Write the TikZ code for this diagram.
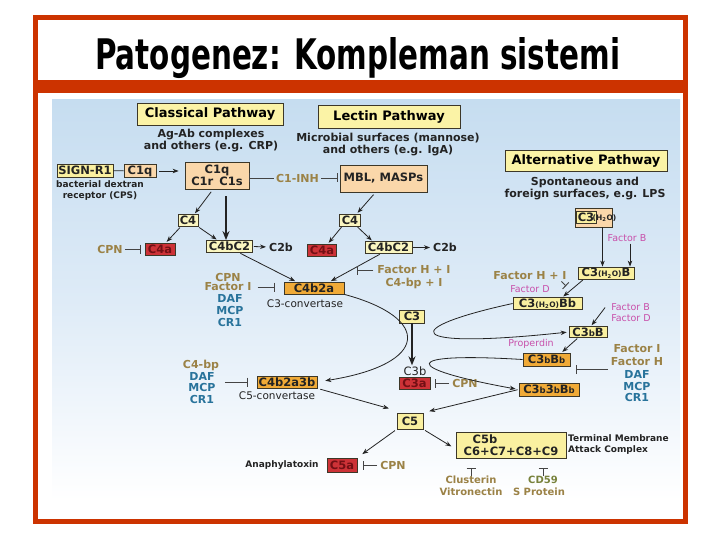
\documentclass[tikz,border=0pt]{standalone}
\usepackage{fontspec}
\setmainfont{DejaVu Sans}
\newfontfamily\titlefont{DejaVu Sans}
\usepackage{graphicx}
\usetikzlibrary{arrows.meta}
\definecolor{frame}{RGB}{204,51,0}
\definecolor{ylw}{RGB}{250,240,160}
\definecolor{hylw}{RGB}{251,243,166}
\definecolor{lylw}{RGB}{250,246,192}
\definecolor{peach}{RGB}{250,215,170}
\definecolor{orng}{RGB}{240,170,55}
\definecolor{rd}{RGB}{205,50,55}
\definecolor{rdtxt}{RGB}{115,15,20}
\definecolor{khaki}{RGB}{155,130,70}
\definecolor{olive}{RGB}{120,130,60}
\definecolor{tealc}{RGB}{40,115,155}
\definecolor{pinkc}{RGB}{200,80,170}
\definecolor{ink}{RGB}{35,35,35}
\definecolor{bord}{RGB}{60,55,40}
\definecolor{bgtop}{RGB}{198,221,240}
\definecolor{bgmid}{RGB}{222,235,247}
\newcommand{\sbb}{{\fontsize{8.5}{8}\selectfont b}}
\newcommand{\hho}{{\fontsize{7.5}{8}\selectfont(H\textsubscript{2}O)}}
\tikzset{
  bx/.style={draw=bord, line width=0.8pt, inner sep=0pt, text=ink,
    font=\bfseries\fontsize{11.5}{12}\selectfont},
  yl/.style={bx, fill=ylw},
  ly/.style={bx, fill=lylw},
  pc/.style={bx, fill=peach},
  og/.style={bx, fill=orng},
  rb/.style={bx, fill=rd, text=rdtxt},
  hdr/.style={draw=bord, line width=0.8pt, fill=hylw, inner sep=0pt, text=black,
    font=\bfseries\fontsize{13}{14}\selectfont},
  txt/.style={inner sep=0pt, text=ink, font=\bfseries\fontsize{11}{12}\selectfont},
  sm/.style={inner sep=0pt, text=ink, font=\bfseries\fontsize{9}{11}\selectfont},
  reg/.style={inner sep=0pt, text=ink, font=\fontsize{10.5}{12}\selectfont},
  kh/.style={inner sep=0pt, text=khaki, font=\bfseries\fontsize{11}{12}\selectfont},
  khs/.style={inner sep=0pt, text=khaki, font=\bfseries\fontsize{10}{12}\selectfont},
  tl/.style={inner sep=0pt, text=tealc, font=\bfseries\fontsize{11}{12}\selectfont},
  pk/.style={inner sep=0pt, text=pinkc, font=\fontsize{9.5}{11}\selectfont},
  arr/.style={draw=ink, line width=0.8pt, -{Stealth[length=6pt,width=4.5pt]}},
  thk/.style={draw=ink, line width=1.8pt, -{Stealth[length=9pt,width=7pt]}},
  inh/.style={draw=ink!85, line width=0.8pt, -{Bar[width=9pt,line width=0.9pt]}},
  ln/.style={draw=ink, line width=0.8pt}
}
\begin{document}
\begin{tikzpicture}[x=1pt,y=-1pt]
\useasboundingbox (0,0) rectangle (720,540);
\fill[white] (0,0) rectangle (720,540);
% background of diagram
\shade[top color=bgtop, bottom color=white, middle color=bgmid] (52,100) rectangle (680,500);
% frame
\draw[frame, line width=5pt] (35.5,17.5) rectangle (685.5,521);
\fill[frame] (33,80) rectangle (688,93);
\node[anchor=base west, inner sep=0pt] (title) at (95,70)
  {\resizebox{525pt}{32pt}{\titlefont\bfseries Patogenez: Kompleman sistemi}};

% ---------- Classical pathway ----------
\node[hdr, minimum width=146, minimum height=22] (cph) at (210,114) {Classical Pathway};
\node[txt, align=center] (cpd) at (211,141) {Ag-Ab complexes\\and others (e.g. CRP)};
\node[yl, minimum width=56, minimum height=13] (signr1) at (85,170.5) {SIGN-R1};
\node[pc, minimum width=32, minimum height=13] (c1qa) at (140,171) {C1q};
\draw[ln] (signr1) -- (c1qa);
\node[sm, align=center] (bdr) at (100,191) {bacterial dextran\\receptor (CPS)};
\node[pc, minimum width=64, minimum height=27, align=center] (c1) at (217,175.5)
  {\fontsize{11.5}{13}\selectfont C1q\\C1r\hspace{6pt}C1s};
\draw[arr, shorten <=3pt, shorten >=6pt] (c1qa) -- (c1qa -| c1.west);
\node[kh] (c1inh) at (297.5,178) {C1-INH};

% ---------- Lectin pathway ----------
\node[hdr, minimum width=142, minimum height=23] (lph) at (389,116.5) {Lectin Pathway};
\node[txt, align=center] (lpd) at (388,145) {Microbial surfaces (mannose)\\and others (e.g. IgA)};
\node[pc, minimum width=87, minimum height=27] (mbl) at (383.5,178.5) {MBL, MASPs};
\draw[inh, shorten <=2pt] (c1inh.west) -- (c1inh.west -| c1.east);
\draw[inh, shorten <=2pt, shorten >=2pt] (c1inh.east) -- (c1inh.east -| mbl.west);

% classical C4 cleavage
\node[ly, minimum width=20, minimum height=12] (c4c) at (188,220.5) {C4};
\node[rb, minimum width=30, minimum height=12] (c4ac) at (160,249) {C4a};
\node[kh] (cpn1) at (110,249) {CPN};
\draw[inh, shorten <=2pt, shorten >=4pt] (cpn1.east) -- (c4ac.west);
\node[ly, minimum width=46, minimum height=12] (c4bc2c) at (229.5,246.5) {C4bC2};
\node[txt] (c2bc) at (281,247) {C2b};
\draw[arr, shorten <=1pt, shorten >=3pt] (c4bc2c.east) -- (c2bc.west);
\draw[arr, shorten <=3pt, shorten >=1pt] ([xshift=-4pt]c1.south) -- ([xshift=-4pt]c4c.north east);
\draw[thk, shorten <=7pt] ([xshift=9pt]c1.south) -- ([xshift=9pt]c1.south |- c4bc2c.north);
\draw[arr, shorten <=1pt, shorten >=1pt] ([xshift=3pt]c4c.south west) -- ([xshift=6pt]c4ac.north);
\draw[arr, shorten <=1pt, shorten >=1pt] (c4c.south east) -- ([xshift=-12pt]c4bc2c.north);

% lectin C4 cleavage
\node[ly, minimum width=21, minimum height=12] (c4l) at (350,220) {C4};
\node[rb, minimum width=29, minimum height=12] (c4al) at (322,250) {C4a};
\node[ly, minimum width=47, minimum height=12] (c4bc2l) at (388.5,247.5) {C4bC2};
\node[txt] (c2bl) at (445,247.5) {C2b};
\draw[arr, shorten <=1pt, shorten >=3pt] (c4bc2l.east) -- (c2bl.west);
\draw[arr, shorten <=3pt, shorten >=1pt] ([xshift=-8pt]mbl.south) -- ([xshift=-4pt]c4l.north east);
\draw[arr, shorten <=1pt, shorten >=1pt] ([xshift=3pt]c4l.south west) -- ([xshift=6pt]c4al.north);
\draw[arr, shorten <=1pt, shorten >=1pt] ([xshift=-4pt]c4l.south east) -- ([xshift=-16pt]c4bc2l.north);

% C3 convertase
\node[og, minimum width=60, minimum height=12] (c4b2a) at (314,288) {C4b2a};
\node[reg] (c3conv) at (305,304) {C3-convertase};
\draw[arr, shorten <=1pt, shorten >=1pt] ([xshift=10pt]c4bc2c.south) -- ([xshift=-18pt]c4b2a.north);
\draw[arr, shorten <=1pt, shorten >=1pt] ([xshift=-8pt]c4bc2l.south) -- ([xshift=16pt]c4b2a.north);
\node[kh] (fhi1) at (414,270) {Factor H + I};
\node[kh] (fhi2) at (414,283) {C4-bp + I};
\coordinate (fhbar) at (357,270);
\draw[inh, shorten <=4pt] (fhi1.west) -- (fhbar);
\node[kh] (cpn2) at (228,277) {CPN};
\node[kh] (fi1) at (228,287) {Factor I};
\node[tl] (daf1) at (230,298.5) {DAF};
\node[tl] (mcp1) at (230,310) {MCP};
\node[tl] (cr11) at (230,322) {CR1};
\draw[inh, shorten <=6pt, shorten >=9pt] (fi1.east) -- (fi1.east -| c4b2a.west);

% C3
\node[yl, minimum width=25, minimum height=13] (c3) at (412,316.5) {C3};
\node[inner sep=0pt, text=ink, font=\fontsize{11.5}{12}\selectfont] (c3b) at (415,371) {C3b};
\draw[thk, shorten >=1pt] (c3.south) -- (c3.south |- c3b.north);
\node[rb, minimum width=31, minimum height=12] (c3a) at (414.5,383) {C3a};
\node[kh] (cpn3) at (465,383) {CPN};
\draw[inh, shorten <=3pt] (cpn3.west) -- ([xshift=5pt]c3a.east);

% C5 convertase
\node[og, minimum width=60, minimum height=12] (c4b2a3b) at (287,382) {C4b2a3b};
\node[reg] (c5conv) at (277,396) {C5-convertase};
\draw[arr, shorten >=8pt] (c4b2a.south east) .. controls (432,318) and (430,364) .. (c4b2a3b.east);
\node[kh] (c4bp) at (201,365) {C4-bp};
\node[tl] (daf2) at (202,376.5) {DAF};
\node[tl] (mcp2) at (202,387.5) {MCP};
\node[tl] (cr12) at (202,399.5) {CR1};
\draw[inh, shorten <=10pt, shorten >=9pt] (daf2.east |- c4b2a3b.west) -- (c4b2a3b.west);

% C5
\node[yl, minimum width=26, minimum height=16] (c5) at (410,421) {C5};
\draw[arr, shorten <=3pt, shorten >=8pt] (c4b2a3b.south east) -- ([yshift=2pt]c5.north west);
\node[rb, minimum width=30, minimum height=14] (c5a) at (342,465) {C5a};
\node[sm] (anaph) at (282,465) {Anaphylatoxin};
\node[kh] (cpn4) at (393,465) {CPN};
\draw[inh, shorten <=3pt] (cpn4.west) -- ([xshift=6pt]c5a.east);
\draw[arr, shorten <=2pt, shorten >=6pt] (c5.south west) -- (c5a.north east);
\node[yl, minimum width=110, minimum height=26] (c5b) at (511,445) {};
\node[bx, draw=none] (c5bt) at (485,439) {C5b};
\node[bx, draw=none] (c6t) at (511,451.5) {C6+C7+C8+C9};
\draw[arr, shorten <=2pt, shorten >=5pt] (c5.south east) -- ([yshift=-4pt]c5b.west);
\node[sm, anchor=west, align=left] (tmac) at (568,445) {Terminal Membrane\\Attack Complex};
\node[khs] (clus) at (471,480) {Clusterin};
\node[khs] (vitro) at (471,492) {Vitronectin};
\node[inner sep=0pt, text=olive, font=\bfseries\fontsize{10}{12}\selectfont] (cd59) at (543,480) {CD59};
\node[khs] (sprot) at (539,492) {S Protein};
\draw[inh, shorten >=10pt] (clus.north) -- (clus.north |- c5b.south);
\draw[inh, shorten >=10pt] (cd59.north) -- (cd59.north |- c5b.south);

% ---------- Alternative pathway ----------
\node[hdr, minimum width=162, minimum height=21] (aph) at (586,161) {Alternative Pathway};
\node[txt, align=center] (apd) at (585,189) {Spontaneous and\\foreign surfaces, e.g. LPS};
\node[pc, minimum width=37, minimum height=19] (c3h2o) at (593.5,217.5) {};
\node[yl, minimum width=20, minimum height=12] (c3in) at (586,217) {C3};
\node[inner sep=0pt, text=ink, font=\bfseries] (h2o) at (604.5,218) {\hho};
\node[pk] (fb1) at (627,238) {Factor B};
\node[yl, minimum width=56, minimum height=12] (c3h2ob) at (606,273) {C3\hho B};
\draw[arr] ([xshift=9pt]c3h2o.south) -- ([xshift=9pt]c3h2o.south |- c3h2ob.north);
\draw[arr, shorten <=2pt] ([xshift=3pt]fb1.south) -- ([xshift=3pt]fb1.south |- c3h2ob.north);
\node[kh] (fhi3) at (530,275.5) {Factor H + I};
\node[pk] (fd1) at (530,289) {Factor D};
\node[yl, minimum width=69, minimum height=12] (c3h2obb) at (547.5,303.5) {C3\hho Bb};
\draw[arr, shorten <=1pt, shorten >=1pt] ([xshift=6pt]c3h2ob.south west) -- ([xshift=15pt]c3h2obb.north);
\coordinate (fhbar2) at (566,286);
\draw[inh, shorten <=1pt] ([xshift=-6pt,yshift=-1pt]fhi3.south east) -- (fhbar2);
\node[pk, align=left] (fbd) at (631,312.5) {Factor B\\Factor D};
\node[yl, minimum width=38, minimum height=11] (c3bB) at (588,332) {C3\sbb B};
\draw[arr, shorten >=1pt] ([xshift=-6pt,yshift=5pt]fbd.west) -- ([xshift=3pt]c3bB.north);
\node[pk] (prop) at (531,344) {Properdin};
\node[og, minimum width=47, minimum height=13] (c3bBb) at (546.5,359.5) {C3\sbb B\sbb};
\draw[arr, shorten <=1pt, shorten >=1pt] ([xshift=-10pt]c3bB.south) -- ([xshift=15pt]c3bBb.north);
\node[kh] (fi2) at (637,349) {Factor I};
\node[kh] (fh2) at (637,362) {Factor H};
\node[tl] (daf3) at (637,374) {DAF};
\node[tl] (mcp3) at (637,386) {MCP};
\node[tl] (cr13) at (637,397.5) {CR1};
\coordinate (barR) at (576,369.5);
\draw[inh, shorten <=16pt] (daf3.west |- barR) -- (barR);
\node[og, minimum width=60, minimum height=13] (c3b3bbb) at (549,389.5) {C3\sbb 3\sbb B\sbb};

% amplification loops
\draw[arr, shorten >=2pt] (c3h2obb.west) .. controls (400,328) and (400,350) .. (c3bB.west);
\draw[arr, shorten >=3pt] (c3bBb.west) .. controls (400,352) and (400,368) .. (c3b3bbb.west);
\draw[arr, shorten <=1pt, shorten >=6pt] (c3b3bbb.west) -- (c5.north east);
\end{tikzpicture}
\end{document}
